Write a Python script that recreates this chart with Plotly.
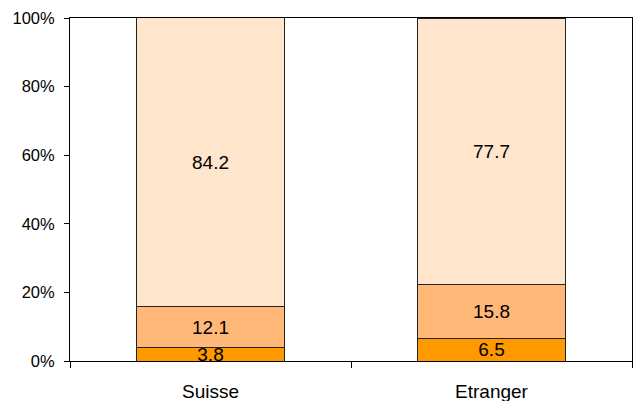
import plotly.graph_objects as go

categories = ["Suisse", "Etranger"]
seg1 = [3.8, 6.5]
seg2 = [12.1, 15.8]
seg3 = [84.2, 77.7]
colors = ["#FF9900", "#FFB878", "#FFE5CC"]
y_ticks = [0, 20, 40, 60, 80, 100]

fig = go.Figure()
for vals, col in zip([seg1, seg2, seg3], colors):
    fig.add_trace(go.Bar(
        x=categories, y=vals, marker=dict(color=col, line=dict(color="#222222", width=1)),
        text=[f"{v:.1f}" for v in vals], textposition="inside", insidetextanchor="middle",
        constraintext="none", textfont=dict(family="Liberation Sans, Arial", size=19, color="#000000"),
        showlegend=False, hoverinfo="skip",
    ))

# page body has an 8px margin, so the figure is sized/offset to compensate
fig.update_layout(
    barmode="stack", bargap=0.473, width=633, height=393,
    margin=dict(l=62, r=9, t=10, b=40, autoexpand=False),
    plot_bgcolor="#FFFFFF", paper_bgcolor="#FFFFFF",
    font=dict(family="Liberation Sans, Arial", color="#000000"),
)
fig.update_xaxes(
    showline=True, linecolor="#000000", linewidth=1, mirror=True,
    ticks="outside", tickson="boundaries", ticklen=6, tickcolor="#000000",
    tickfont=dict(size=19), showgrid=False, automargin=False, ticklabelstandoff=13,
)
fig.update_yaxes(
    range=[0, 100], tickvals=y_ticks, ticktext=[f"{v}%" for v in y_ticks],
    showline=True, linecolor="#000000", linewidth=1, mirror=True,
    ticks="outside", ticklen=5, tickcolor="#000000", tickfont=dict(size=16.5),
    showgrid=False, zeroline=False, automargin=False, ticklabelstandoff=6,
)
fig.write_html("out.html")
